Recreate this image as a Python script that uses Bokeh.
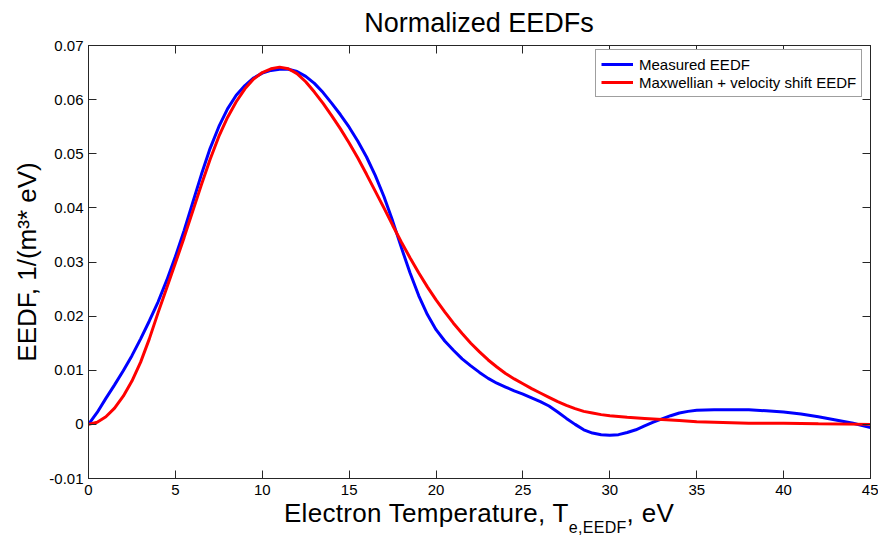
from bokeh.plotting import figure
from bokeh.models import Range1d, LinearAxis, FixedTicker, CustomJSTickFormatter, Legend, LegendItem, Div
from bokeh.layouts import column
from bokeh.embed import file_html
from bokeh.resources import INLINE

# ---- data ----
blue_x = [0, 0.5, 1, 1.5, 2, 2.5, 3, 3.5, 4, 4.5, 5, 5.5, 6, 6.5, 7, 7.5, 8, 8.5, 9, 9.5,
          10, 10.5, 11, 11.5, 12, 12.5, 13, 13.5, 14, 14.5, 15, 15.5, 16, 16.5, 17, 17.5,
          18, 18.5, 19, 19.5, 20, 20.5, 21, 21.5, 22, 22.5, 23, 23.5, 24, 24.5, 25, 25.5,
          26, 26.5, 27, 27.5, 28, 28.5, 29, 29.5, 30, 30.5, 31, 31.5, 32, 32.5, 33, 33.5,
          34, 34.5, 35, 36, 37, 38, 39, 40, 41, 42, 43, 44, 45]
blue_y = [0.0, 0.0022, 0.0048, 0.0073, 0.0099, 0.0127, 0.0158, 0.0191, 0.0226, 0.0266,
          0.0310, 0.0358, 0.0410, 0.0462, 0.0510, 0.0550, 0.0583, 0.0608, 0.0626, 0.0640,
          0.0649, 0.0654, 0.0656, 0.0656, 0.0652, 0.0643, 0.0630, 0.0613, 0.0593, 0.0572,
          0.0549, 0.0523, 0.0494, 0.0460, 0.0421, 0.0376, 0.0327, 0.0280, 0.0238, 0.0203,
          0.0175, 0.0154, 0.0137, 0.0121, 0.0108, 0.0096, 0.0085, 0.0076, 0.0069, 0.0062,
          0.0056, 0.0049, 0.0042, 0.0034, 0.0023, 0.0011, 0.0000, -0.0010, -0.0016, -0.0019,
          -0.0020, -0.0019, -0.0015, -0.0010, -0.0003, 0.0004, 0.0010, 0.0016, 0.0021, 0.0024,
          0.0026, 0.0027, 0.0027, 0.0027, 0.0025, 0.0023, 0.0019, 0.0014, 0.0008, 0.0002,
          -0.0006]

red_x = [0, 0.5, 1, 1.5, 2, 2.5, 3, 3.5, 4, 4.5, 5, 5.5, 6, 6.5, 7, 7.5, 8, 8.5, 9, 9.5,
         10, 10.5, 11, 11.5, 12, 12.5, 13, 13.5, 14, 14.5, 15, 15.5, 16, 16.5, 17, 17.5,
         18, 18.5, 19, 19.5, 20, 20.5, 21, 21.5, 22, 22.5, 23, 23.5, 24, 24.5, 25, 25.5,
         26, 26.5, 27, 27.5, 28, 28.5, 29, 29.5, 30, 31, 32, 33, 34, 35, 36, 37, 38, 40,
         42, 45]
red_y = [0.0, 0.0004, 0.0014, 0.0030, 0.0052, 0.0080, 0.0115, 0.0158, 0.0206, 0.0252,
         0.0298, 0.0345, 0.0394, 0.0443, 0.0490, 0.0532, 0.0567, 0.0596, 0.0620, 0.0638,
         0.0650, 0.0657, 0.0660, 0.0657, 0.0648, 0.0633, 0.0614, 0.0593, 0.0570, 0.0546,
         0.0520, 0.0492, 0.0462, 0.0431, 0.0400, 0.0368, 0.0337, 0.0308, 0.0280, 0.0254,
         0.0230, 0.0208, 0.0187, 0.0168, 0.0150, 0.0134, 0.0119, 0.0106, 0.0094, 0.0084,
         0.0075, 0.0066, 0.0058, 0.0050, 0.0042, 0.0035, 0.0029, 0.0024, 0.0021, 0.0018,
         0.0016, 0.0013, 0.0011, 0.0009, 0.0007, 0.0005, 0.0004, 0.0003, 0.0002, 0.0002,
         0.0001, 0.0]

x_ticks = [0, 5, 10, 15, 20, 25, 30, 35, 40, 45]
y_ticks = [-0.01, 0.0, 0.01, 0.02, 0.03, 0.04, 0.05, 0.06, 0.07]

series_labels = ["Measured EEDF", "Maxwellian + velocity shift EEDF"]
title_text = "Normalized EEDFs"
y_label = "EEDF, 1/(m\u00b3* eV)"
x_label_main = "Electron Temperature, T"
x_label_sub = "e,EEDF"
x_label_tail = ", eV"

FONT = "Liberation Sans"

title_div = Div(text=title_text, width=782, height=28, margin=(8, 0, 0, 88),
                styles={"font-family": FONT, "font-size": "27px", "line-height": "30px",
                        "text-align": "center", "color": "black", "white-space": "nowrap"})

p = figure(width=878, height=466, output_backend="svg", toolbar_location=None,
           x_range=Range1d(0, 45), y_range=Range1d(-0.01, 0.07),
           min_border_left=88, min_border_right=8, min_border_top=9, min_border_bottom=24)
p.background_fill_color = "white"
p.border_fill_color = "white"
p.outline_line_color = "#262626"
p.outline_line_width = 1
p.xgrid.visible = False
p.ygrid.visible = False

r_blue = p.line(blue_x, blue_y, line_color="#0000FF", line_width=3)
r_red = p.line(red_x, red_y, line_color="#FF0000", line_width=3)

fmt_y = CustomJSTickFormatter(code="return tick.toFixed(2).replace(/\\.?0+$/, '');")
blank = CustomJSTickFormatter(code="return '';")

for ax in p.xaxis:
    ax.ticker = FixedTicker(ticks=x_ticks)
for ax in p.yaxis:
    ax.ticker = FixedTicker(ticks=y_ticks)
    ax.formatter = fmt_y

for ax in list(p.xaxis) + list(p.yaxis):
    ax.major_tick_in = 8
    ax.major_tick_out = 0
    ax.minor_tick_line_color = None
    ax.axis_line_color = "#262626"
    ax.major_tick_line_color = "#262626"
    ax.major_label_text_font = FONT
    ax.major_label_text_font_size = "15px"
    ax.major_label_text_color = "black"

p.xaxis.major_label_standoff = 6
p.yaxis.major_label_standoff = 5

p.yaxis.axis_label = y_label
p.yaxis.axis_label_text_font = FONT
p.yaxis.axis_label_text_font_size = "26px"
p.yaxis.axis_label_text_font_style = "normal"
p.yaxis.axis_label_text_color = "black"
p.yaxis.axis_label_standoff = 4

top = LinearAxis(ticker=FixedTicker(ticks=x_ticks), formatter=blank)
right = LinearAxis(ticker=FixedTicker(ticks=y_ticks), formatter=blank)
for ax in (top, right):
    ax.major_tick_in = 8
    ax.major_tick_out = 0
    ax.minor_tick_line_color = None
    ax.axis_line_color = "#262626"
    ax.major_tick_line_color = "#262626"
    ax.major_label_standoff = 0
    ax.major_label_text_font_size = "1px"
p.add_layout(top, "above")
p.add_layout(right, "right")

legend = Legend(items=[LegendItem(label=series_labels[0], renderers=[r_blue]),
                       LegendItem(label=series_labels[1], renderers=[r_red])],
                location=(507, 381))
legend.label_text_font = FONT
legend.label_text_font_size = "15px"
legend.label_text_color = "black"
legend.glyph_width = 32
legend.glyph_height = 18
legend.label_height = 18
legend.label_standoff = 6
legend.padding = 5
legend.spacing = 0
legend.margin = 0
legend.border_line_color = "#404040"
legend.border_line_width = 1
legend.background_fill_color = "white"
legend.background_fill_alpha = 1
p.add_layout(legend)

xlabel_html = (f'{x_label_main}<span style="font-size:16px; vertical-align:-11px;">'
               f'{x_label_sub}</span>{x_label_tail}')
xlabel = Div(text=xlabel_html, width=782, height=33, margin=(0, 0, 0, 88),
             styles={"font-family": FONT, "font-size": "26px", "line-height": "23px",
                     "letter-spacing": "0.3px",
                     "text-align": "center", "color": "black", "white-space": "nowrap"})

layout = column(title_div, p, xlabel, spacing=0)

open("out.html", "w").write(file_html(layout, INLINE))
